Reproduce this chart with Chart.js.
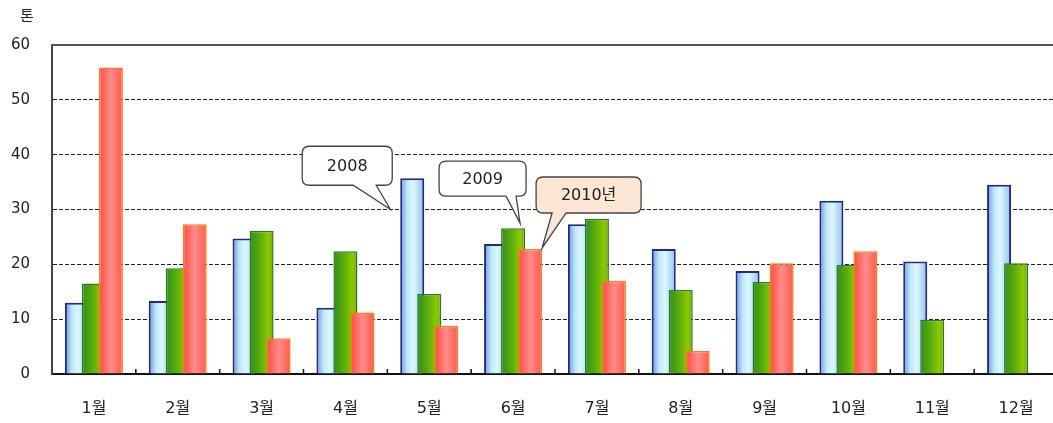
<!DOCTYPE html>
<html>
<head>
<meta charset="utf-8">
<script src="https://cdn.jsdelivr.net/npm/chart.js@4.4.0/dist/chart.umd.min.js"></script>
<style>
  html, body { margin: 0; padding: 0; background: #fff; overflow: hidden; }
  #wrap { width: 1062px; height: 423px; }
</style>
</head>
<body>
<div id="wrap"><canvas id="myChart"></canvas></div>
<script>
// monthly tonnage
var months = ['1월', '2월', '3월', '4월', '5월', '6월', '7월', '8월', '9월', '10월', '11월', '12월'];
var y2008 = [13.0, 13.3, 24.7, 12.1, 35.7, 23.7, 27.3, 22.8, 18.8, 31.6, 20.5, 34.5];
var y2009 = [16.5, 19.3, 26.1, 22.4, 14.6, 26.6, 28.3, 15.3, 16.8, 19.9, 9.9, 20.2];
var y2010 = [55.9, 27.3, 6.5, 11.2, 8.8, 22.8, 17.0, 4.2, 20.2, 22.4, null, null];
var seriesNames = ['2008', '2009', '2010년'];
var yTicks = [0, 10, 20, 30, 40, 50, 60];
var unitLabel = '톤';

Chart.defaults.font.family = "'DejaVu Sans', 'Noto Sans CJK KR', sans-serif";
Chart.defaults.color = '#222';

// horizontal gradient across each bar, like the old "cylinder" look
function barFill(stops, solid) {
  return function (c) {
    var el = c.element;
    if (!el || el.width === undefined || isNaN(el.x)) return solid;
    var g = c.chart.ctx.createLinearGradient(el.x - el.width / 2, 0, el.x + el.width / 2, 0);
    stops.forEach(function (s) { g.addColorStop(s[0], s[1]); });
    return g;
  };
}

// bars overlap, the later series has to sit on top -> draw in dataset order
var barOrder = {
  id: 'barOrder',
  beforeDatasetsDraw: function (chart) {
    var ctx = chart.ctx, a = chart.chartArea;
    chart.data.datasets.forEach(function (d, i) {
      chart.getDatasetMeta(i).controller.draw();
    });
    // frame: solid top line, small ticks between months
    ctx.save();
    ctx.strokeStyle = '#555';
    ctx.lineWidth = 2;
    ctx.beginPath();
    ctx.moveTo(a.left - 1, a.top);
    ctx.lineTo(a.right + 10, a.top);
    ctx.stroke();
    var xs = chart.scales.x;
    ctx.strokeStyle = '#111';
    ctx.lineWidth = 1.5;
    for (var i = 1; i < months.length; i++) {
      var x = (xs.getPixelForValue(i - 1) + xs.getPixelForValue(i)) / 2;
      ctx.beginPath();
      ctx.moveTo(x, a.bottom);
      ctx.lineTo(x, a.bottom - 5);
      ctx.stroke();
    }
    ctx.restore();
    return false;
  }
};

// callout boxes naming the series
var callouts = [
  { text: seriesNames[0], ds: 0, idx: 4, corner: 'left', dx: -10, dy: 31, box: [-88, 2, -63, -24], tail: [-37, -14], fill: '#ffffff' },
  { text: seriesNames[1], ds: 1, idx: 5, corner: 'right', dx: -5, dy: -5, box: [-81, 6, -62, -27], tail: [-14, -4], fill: '#ffffff' },
  { text: seriesNames[2], ds: 2, idx: 5, corner: 'right', dx: 0, dy: -1, box: [-6, 99, -71, -35], tail: [10, 24], fill: '#fce6d4' }
];

var calloutPlugin = {
  id: 'callouts',
  afterDraw: function (chart) {
    var ctx = chart.ctx;
    ctx.save();
    // unit label above the axis
    ctx.font = "15px 'Noto Sans CJK KR', sans-serif";
    ctx.fillStyle = '#222';
    ctx.textAlign = 'center';
    ctx.textBaseline = 'middle';
    ctx.fillText(unitLabel, 27, 15);

    callouts.forEach(function (c) {
      var el = chart.getDatasetMeta(c.ds).data[c.idx];
      var bx = c.corner === 'left' ? el.x - el.width / 2 : el.x + el.width / 2;
      var tx = bx + c.dx, ty = el.y + c.dy;
      var l = tx + c.box[0], r = tx + c.box[1], t = ty + c.box[2], b = ty + c.box[3];
      var rad = 7;
      ctx.beginPath();
      ctx.moveTo(l + rad, t);
      ctx.lineTo(r - rad, t);
      ctx.quadraticCurveTo(r, t, r, t + rad);
      ctx.lineTo(r, b - rad);
      ctx.quadraticCurveTo(r, b, r - rad, b);
      ctx.lineTo(tx + c.tail[1], b);
      ctx.lineTo(tx, ty);
      ctx.lineTo(tx + c.tail[0], b);
      ctx.lineTo(l + rad, b);
      ctx.quadraticCurveTo(l, b, l, b - rad);
      ctx.lineTo(l, t + rad);
      ctx.quadraticCurveTo(l, t, l + rad, t);
      ctx.closePath();
      ctx.fillStyle = c.fill;
      ctx.fill();
      ctx.strokeStyle = '#444';
      ctx.lineWidth = 1.3;
      ctx.stroke();
      ctx.fillStyle = '#222';
      ctx.font = "16px 'DejaVu Sans', 'Noto Sans CJK KR', sans-serif";
      ctx.fillText(c.text, (l + r) / 2, (t + b) / 2 + 1);
    });
    ctx.restore();
  }
};

var ctx = document.getElementById('myChart').getContext('2d');
var chart = new Chart(ctx, {
  type: 'bar',
  data: {
    labels: months,
    datasets: [{
      label: seriesNames[0],
      data: y2008,
      backgroundColor: barFill([[0, '#6f93d8'], [0.3, '#bfe9fa'], [0.55, '#dcf8ff'], [1, '#93bfec']], '#bfe9fa'),
      borderColor: '#1f2a86',
      borderWidth: 2
    }, {
      label: seriesNames[1],
      data: y2009,
      backgroundColor: barFill([[0, '#2f8f1e'], [0.45, '#5cae0a'], [0.8, '#8fc800'], [1, '#6aae00']], '#5cae0a'),
      borderColor: '#2b7a23',
      borderWidth: 1.5
    }, {
      label: seriesNames[2],
      data: y2010,
      backgroundColor: barFill([[0, '#ff4a3e'], [0.5, '#ff8c8c'], [1, '#ff5a48']], '#ff6a60'),
      borderColor: '#ff7a1a',
      borderWidth: 1.5
    }]
  },
  options: {
    responsive: true,
    maintainAspectRatio: false,
    animation: false,
    categoryPercentage: 0.609,
    barPercentage: 1.41,
    layout: { padding: { top: 45, right: 4, bottom: 6, left: 0 } },
    plugins: {
      legend: { display: false },
      tooltip: { enabled: false }
    },
    scales: {
      x: {
        afterFit: function (scale) { scale.height = 43; },
        grid: { display: false, drawTicks: false },
        border: { display: true, color: '#111', width: 2 },
        ticks: { font: { size: 16 }, padding: 25, color: '#222' }
      },
      y: {
        min: 0,
        max: 60,
        afterFit: function (scale) { scale.width = 52; },
        afterBuildTicks: function (scale) {
          scale.ticks = yTicks.map(function (v) { return { value: v }; });
        },
        grid: {
          drawTicks: false,
          color: function (c) {
            return (c.tick && (c.tick.value === 60 || c.tick.value === 0)) ? 'rgba(0,0,0,0)' : '#222';
          },
          lineWidth: 1
        },
        border: { display: true, color: '#444', width: 2, dash: [4, 2] },
        ticks: { font: { size: 15 }, padding: 22, color: '#222' }
      }
    }
  },
  plugins: [barOrder, calloutPlugin]
});
// second pass so the gradients know where each bar sits
chart.update('none');
</script>
</body>
</html>
